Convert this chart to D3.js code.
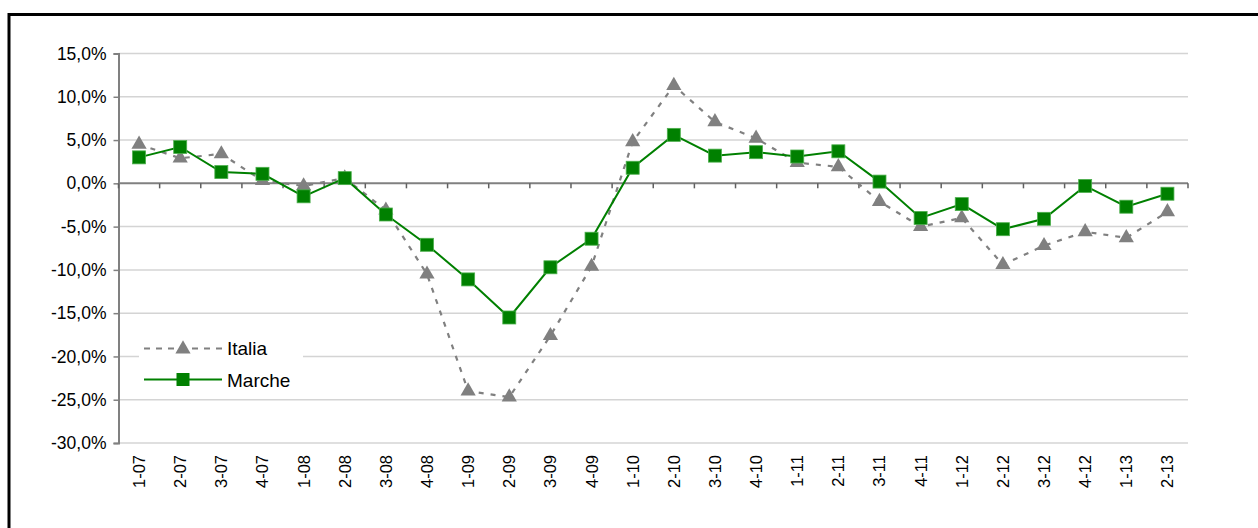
<!DOCTYPE html>
<html>
<head>
<meta charset="utf-8">
<script src="https://cdn.jsdelivr.net/npm/d3@7"></script>
<style>
body { margin: 0; background: #fff; }
svg text { font-family: "Liberation Sans", Arial, sans-serif; fill: #000; }
</style>
</head>
<body>
<div class="svg-container"></div>
<script>
// trimestri e variazioni %
var quarters = ["1-07","2-07","3-07","4-07","1-08","2-08","3-08","4-08","1-09","2-09","3-09","4-09",
                "1-10","2-10","3-10","4-10","1-11","2-11","3-11","4-11","1-12","2-12","3-12","4-12","1-13","2-13"];
var italia = [4.5, 2.9, 3.4, 0.3, -0.3, 0.6, -3.1, -10.5, -24.0, -24.7, -17.6, -9.6,
              4.8, 11.3, 7.1, 5.2, 2.4, 1.9, -2.1, -5.0, -4.0, -9.4, -7.2, -5.6, -6.3, -3.3];
var marche = [3.0, 4.2, 1.3, 1.1, -1.5, 0.6, -3.6, -7.1, -11.1, -15.5, -9.7, -6.4,
              1.8, 5.6, 3.2, 3.6, 3.1, 3.7, 0.2, -4.0, -2.4, -5.3, -4.1, -0.3, -2.7, -1.2];
var yTicks = [15, 10, 5, 0, -5, -10, -15, -20, -25, -30];

var svg1 = d3.select("body").select(".svg-container").append("svg")
    .attr("width", 1258)
    .attr("height", 528);

// cornice
svg1.append("rect")
    .attr("x", 9).attr("y", 14.5)
    .attr("width", 1300).attr("height", 600)
    .attr("fill", "none").attr("stroke", "#000").attr("stroke-width", 3);

var plotLeft = 118.5, plotRight = 1188, plotTop = 53.5, plotBottom = 443;

var x = d3.scaleBand().domain(quarters).range([plotLeft, plotRight]).padding(0);
var y = d3.scaleLinear().domain([-30, 15]).range([plotBottom, plotTop]);
var cx = function(i) { return x(quarters[i]) + x.bandwidth() / 2; };

// griglia
svg1.append("g").selectAll("line").data(yTicks.filter(function(d) { return d != 0; }))
    .enter().append("line")
    .attr("x1", plotLeft).attr("x2", plotRight)
    .attr("y1", function(d) { return y(d); }).attr("y2", function(d) { return y(d); })
    .attr("stroke", "#d4d4d4").attr("stroke-width", 1.5);

// asse y
var yAxis = svg1.append("g")
    .attr("transform", "translate(" + plotLeft + ",0)")
    .call(d3.axisLeft(y).tickValues(yTicks).tickSize(5).tickPadding(7)
        .tickFormat(function(d) { return d3.format(".1f")(d).replace(".", ",").replace("−", "-") + "%"; }));
yAxis.select(".domain").attr("stroke", "#808080").attr("stroke-width", 2);
yAxis.selectAll(".tick line").attr("stroke", "#808080").attr("stroke-width", 1.5);
yAxis.selectAll("text").attr("font-size", "17.5px").attr("font-family", "Liberation Sans, Arial, sans-serif").attr("fill", "#000");

// asse x a quota 0
svg1.append("line")
    .attr("x1", plotLeft).attr("x2", plotRight)
    .attr("y1", y(0)).attr("y2", y(0))
    .attr("stroke", "#808080").attr("stroke-width", 2);
svg1.append("g").selectAll("line").data(quarters.concat(["end"]))
    .enter().append("line")
    .attr("x1", function(d, i) { return plotLeft + i * x.bandwidth(); })
    .attr("x2", function(d, i) { return plotLeft + i * x.bandwidth(); })
    .attr("y1", y(0)).attr("y2", y(0) + 5)
    .attr("stroke", "#606060").attr("stroke-width", 1.5);

// etichette x ruotate
svg1.append("g").selectAll("text").data(quarters)
    .enter().append("text")
    .attr("transform", function(d, i) { return "translate(" + (cx(i) + 6) + "," + (plotBottom + 12) + ") rotate(-90)"; })
    .attr("text-anchor", "end")
    .attr("font-size", "16.5px")
    .text(function(d) { return d; });

// Italia
var line = d3.line().x(function(d, i) { return cx(i); }).y(function(d) { return y(d); });
svg1.append("path")
    .attr("d", line(italia))
    .attr("fill", "none").attr("stroke", "#808080").attr("stroke-width", 2.2)
    .attr("stroke-dasharray", "5,7");
svg1.append("g").selectAll("path").data(italia)
    .enter().append("path")
    .attr("d", d3.symbol().type(d3.symbolTriangle).size(100))
    .attr("transform", function(d, i) { return "translate(" + cx(i) + "," + y(d) + ")"; })
    .attr("fill", "#808080");

// Marche
svg1.append("path")
    .attr("d", line(marche))
    .attr("fill", "none").attr("stroke", "#008000").attr("stroke-width", 2);
svg1.append("g").selectAll("rect").data(marche)
    .enter().append("rect")
    .attr("x", function(d, i) { return cx(i) - 6.5; })
    .attr("y", function(d) { return y(d) - 6.5; })
    .attr("width", 13).attr("height", 13)
    .attr("fill", "#008000").attr("stroke", "#4caf4c").attr("stroke-width", 0.8);

// legenda
var lg = svg1.append("g");
lg.append("rect").attr("x", 139).attr("y", 334).attr("width", 164).attr("height", 60).attr("fill", "#fff");
lg.append("line").attr("x1", 144).attr("x2", 222).attr("y1", 348.5).attr("y2", 348.5)
    .attr("stroke", "#808080").attr("stroke-width", 2).attr("stroke-dasharray", "6,6");
lg.append("path").attr("d", d3.symbol().type(d3.symbolTriangle).size(100))
    .attr("transform", "translate(183,349)").attr("fill", "#808080");
lg.append("text").attr("x", 227).attr("y", 355).attr("font-size", "19px").text("Italia");
lg.append("line").attr("x1", 144).attr("x2", 222).attr("y1", 379.5).attr("y2", 379.5)
    .attr("stroke", "#008000").attr("stroke-width", 2);
lg.append("rect").attr("x", 176.5).attr("y", 373).attr("width", 13).attr("height", 13).attr("fill", "#008000");
lg.append("text").attr("x", 227).attr("y", 387).attr("font-size", "19px").text("Marche");
</script>
</body>
</html>
